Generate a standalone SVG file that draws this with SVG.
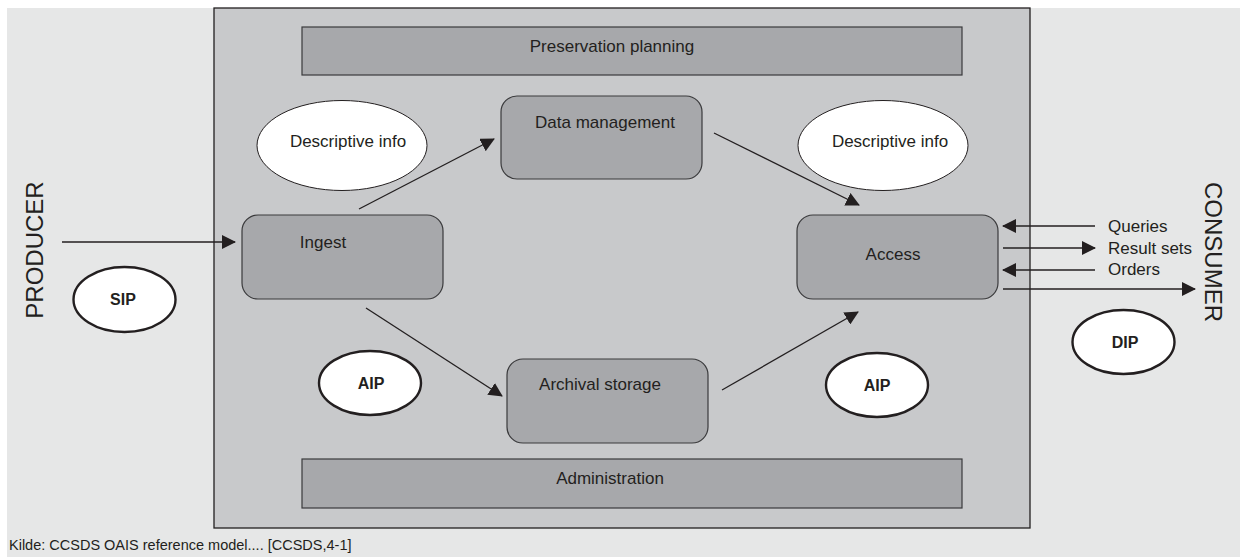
<svg xmlns="http://www.w3.org/2000/svg" width="1240" height="557" viewBox="0 0 1240 557">
<defs>
<marker id="ah" markerWidth="14" markerHeight="14" viewBox="0 0 14 14" refX="13" refY="7" orient="auto" markerUnits="userSpaceOnUse">
<path d="M0,0 L14,7 L0,14 Z" fill="#231f20"/>
</marker>
</defs>
<style>
text{font-family:"Liberation Sans",Arial,sans-serif;fill:#231f20}
.lbl{font-size:17px}
.pk{font-size:16px;font-weight:bold}
.mod{fill:#a7a8ab;stroke:#3a3a3c;stroke-width:1.2}
.ell{fill:#ffffff;stroke:#231f20;stroke-width:1}
.pkg{fill:#ffffff;stroke:#231f20;stroke-width:2.4}
.con{stroke:#231f20;stroke-width:1.3;fill:none;marker-end:url(#ah)}
</style>
<rect x="0" y="0" width="1240" height="557" fill="#ffffff"/>
<rect x="7" y="8" width="1233" height="549" fill="#e6e7e7"/>
<g id="oais">
<rect x="214" y="8" width="816" height="520" fill="#c8c9cb" stroke="#231f20" stroke-width="1.3"/>
</g>
<g id="preservation-planning">
<rect class="mod" x="302" y="27" width="660" height="48"/>
<text class="lbl" x="612" y="52" text-anchor="middle">Preservation planning</text>
</g>
<g id="administration">
<rect class="mod" x="302" y="459" width="660" height="49"/>
<text class="lbl" x="610" y="484" text-anchor="middle">Administration</text>
</g>
<g id="data-management">
<rect class="mod" x="501" y="96" width="201" height="83" rx="16"/>
<text class="lbl" x="605" y="128" text-anchor="middle">Data management</text>
</g>
<g id="ingest">
<rect class="mod" x="242" y="215" width="201" height="84" rx="16"/>
<text class="lbl" x="323" y="248" text-anchor="middle">Ingest</text>
</g>
<g id="access">
<rect class="mod" x="797" y="215" width="201" height="84" rx="16"/>
<text class="lbl" x="893" y="260" text-anchor="middle">Access</text>
</g>
<g id="archival-storage">
<rect class="mod" x="507" y="359" width="201" height="84" rx="16"/>
<text class="lbl" x="600" y="390" text-anchor="middle">Archival storage</text>
</g>
<g id="descriptive-info-left">
<ellipse class="ell" cx="342" cy="145.5" rx="85" ry="45"/>
<text class="lbl" x="348" y="147" text-anchor="middle">Descriptive info</text>
</g>
<g id="descriptive-info-right">
<ellipse class="ell" cx="883" cy="145.5" rx="85" ry="45"/>
<text class="lbl" x="890" y="147" text-anchor="middle">Descriptive info</text>
</g>
<g id="sip">
<ellipse class="pkg" cx="124.5" cy="299.5" rx="51" ry="32.5"/>
<text class="pk" x="123" y="305" text-anchor="middle">SIP</text>
</g>
<g id="aip-left">
<ellipse class="pkg" cx="370" cy="383" rx="51" ry="32"/>
<text class="pk" x="371" y="389" text-anchor="middle">AIP</text>
</g>
<g id="aip-right">
<ellipse class="pkg" cx="877" cy="385" rx="51" ry="32"/>
<text class="pk" x="877" y="391" text-anchor="middle">AIP</text>
</g>
<g id="dip">
<ellipse class="pkg" cx="1123.5" cy="342" rx="51" ry="32"/>
<text class="pk" x="1125" y="348" text-anchor="middle">DIP</text>
</g>
<g id="producer">
<text x="0" y="0" font-size="24" text-anchor="middle" transform="translate(43,250) rotate(-90)">PRODUCER</text>
</g>
<g id="consumer">
<text x="0" y="0" font-size="24" text-anchor="middle" transform="translate(1205,252) rotate(90)">CONSUMER</text>
</g>
<g id="connectors">
<line class="con" x1="62" y1="242" x2="235" y2="242"/>
<line class="con" x1="359" y1="209" x2="494" y2="139"/>
<line class="con" x1="714" y1="133" x2="859" y2="205"/>
<line class="con" x1="366" y1="308" x2="502" y2="396"/>
<line class="con" x1="722" y1="390" x2="858" y2="312"/>
<line class="con" x1="1095" y1="226" x2="1003" y2="226"/>
<line class="con" x1="1003" y1="248" x2="1095" y2="248"/>
<line class="con" x1="1095" y1="270" x2="1003" y2="270"/>
<line class="con" x1="1003" y1="289" x2="1195" y2="289"/>
</g>
<g id="flow-labels">
<text class="lbl" x="1108" y="232">Queries</text>
<text class="lbl" x="1108" y="254">Result sets</text>
<text class="lbl" x="1108" y="275">Orders</text>
</g>
<text x="9" y="550" font-size="14.5">Kilde: CCSDS OAIS reference model.... [CCSDS,4-1]</text>
</svg>
